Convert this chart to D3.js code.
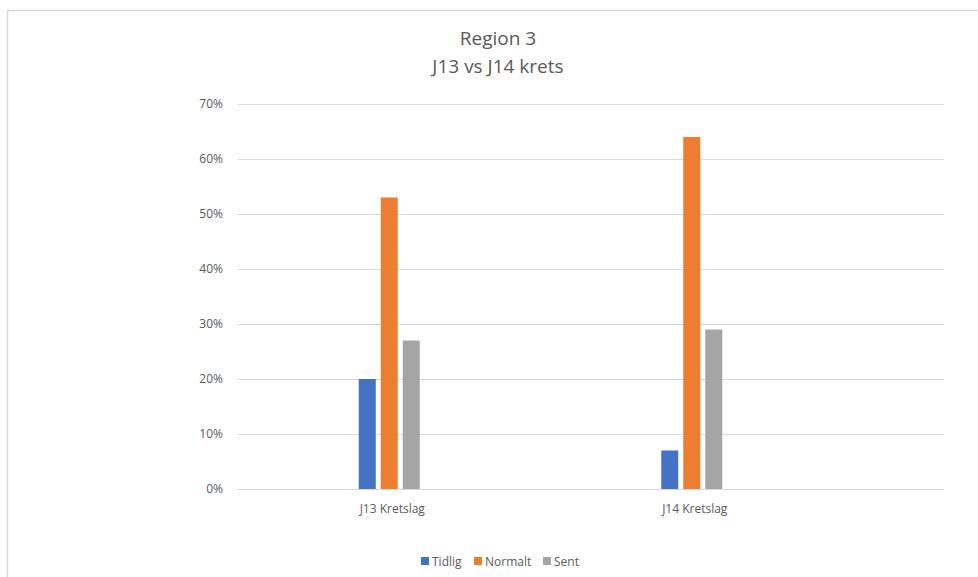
<!DOCTYPE html>
<html>
<head>
<meta charset="utf-8">
<script src="https://cdn.jsdelivr.net/npm/d3@7"></script>
<style>
  html, body { margin: 0; padding: 0; background: #fff; }
  svg { display: block; font-family: "Open Sans", "Noto Sans", sans-serif; }
</style>
</head>
<body>
<svg id="chart" width="978" height="577"></svg>
<script>
// Chart data
const categories = ["J13 Kretslag", "J14 Kretslag"];
const seriesNames = ["Tidlig", "Normalt", "Sent"];
const tidlig = [0.20, 0.07];
const normalt = [0.53, 0.64];
const sent = [0.27, 0.29];
const yTicks = [0, 0.1, 0.2, 0.3, 0.4, 0.5, 0.6, 0.7];
const titleLines = ["Region 3", "J13 vs J14 krets"];

const seriesValues = [tidlig, normalt, sent];
const colors = ["#4472C4", "#ED7D31", "#A5A5A5"];
const textColor = "#595959";

const svg = d3.select("#chart");

// Frame lines of the chart area
svg.append("line").attr("x1", 7.5).attr("x2", 7.5).attr("y1", 10).attr("y2", 577)
  .attr("stroke", "#d9d9d9").attr("stroke-width", 1.5);
svg.append("line").attr("x1", 7).attr("x2", 978).attr("y1", 10.5).attr("y2", 10.5)
  .attr("stroke", "#d9d9d9").attr("stroke-width", 1.5);

// Scales
const y = d3.scaleLinear().domain([0, 0.7]).range([489, 104]);
const gridLeft = 238, gridRight = 944;
const x0 = d3.scaleBand().domain(categories).range([238, 843]);
// bars 17px wide on a 22px step, centred on each category
const x1 = d3.scaleBand().domain(seriesNames)
  .range([-30.5, 30.5]).paddingInner(5 / 22);

// Gridlines
svg.append("g").selectAll("line").data(yTicks).join("line")
  .attr("x1", gridLeft).attr("x2", gridRight)
  .attr("y1", d => Math.round(y(d)) + 0.5).attr("y2", d => Math.round(y(d)) + 0.5)
  .attr("stroke", "#d9d9d9").attr("stroke-width", 1);

// Y axis labels
const yAxis = d3.axisLeft(y).tickValues(yTicks).tickFormat(d3.format(".0%")).tickSize(0).tickPadding(0);
const yg = svg.append("g").attr("transform", "translate(223,0)").call(yAxis);
yg.select(".domain").remove();
yg.selectAll("text").attr("fill", textColor).attr("font-size", 12).attr("font-family", "Open Sans, sans-serif");

// Bars
const groups = svg.append("g").selectAll("g").data(categories).join("g")
  .attr("transform", d => `translate(${x0(d) + x0.bandwidth() / 2},0)`);
groups.selectAll("rect")
  .data((c, i) => seriesNames.map((s, k) => ({ s, k, v: seriesValues[k][i] })))
  .join("rect")
  .attr("x", d => x1(d.s))
  .attr("width", x1.bandwidth())
  .attr("y", d => y(d.v))
  .attr("height", d => y(0) - y(d.v))
  .attr("fill", d => colors[d.k]);

// X axis labels
const xAxis = d3.axisBottom(x0).tickSize(0).tickPadding(0);
const xg = svg.append("g").attr("transform", "translate(3,504)").call(xAxis);
xg.select(".domain").remove();
xg.selectAll("text").attr("fill", textColor).attr("font-size", 12).attr("font-family", "Open Sans, sans-serif");

// Title
const title = svg.append("text").attr("text-anchor", "middle")
  .attr("fill", textColor).attr("font-size", 19);
titleLines.forEach((t, i) => {
  title.append("tspan").attr("x", 498).attr("y", 45 + i * 28).text(t);
});

// Legend
const legendX = [421, 474, 543];
const legend = svg.append("g").selectAll("g").data(seriesNames).join("g")
  .attr("transform", (d, i) => `translate(${legendX[i]},557)`);
legend.append("rect").attr("width", 8).attr("height", 8).attr("fill", (d, i) => colors[i]);
legend.append("text").attr("x", 11).attr("y", 8.5).attr("fill", textColor)
  .attr("font-size", 12).text(d => d);
</script>
</body>
</html>
